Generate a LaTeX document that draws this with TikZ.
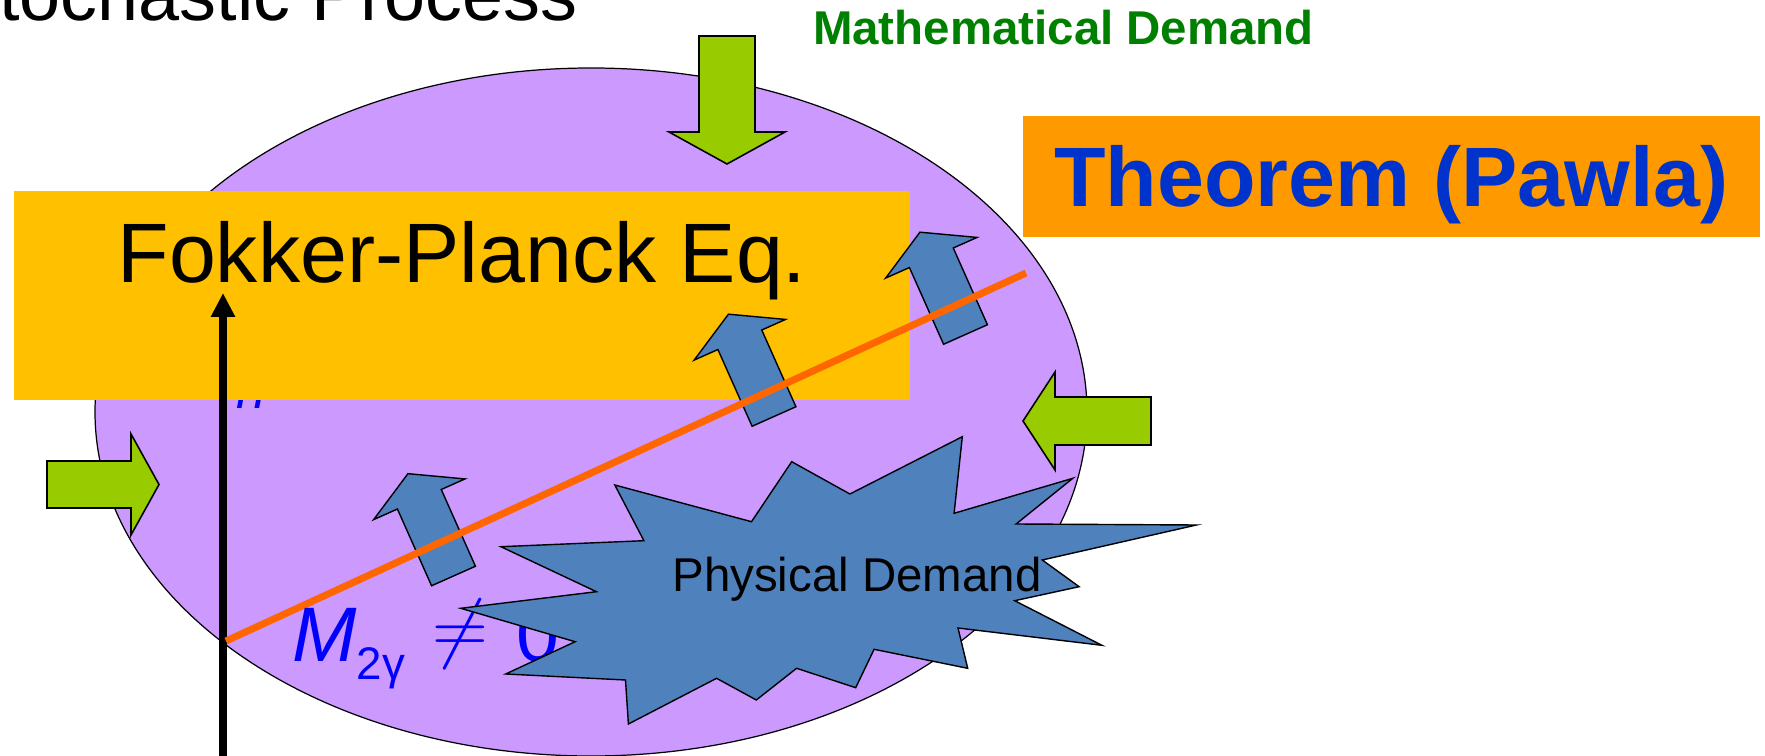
\RequirePackage{fix-cm}
\documentclass[tikz,border=0pt]{standalone}
\usepackage{fontspec}
\setmainfont{Liberation Sans}
\usepackage{xcolor}
\usepackage{tikz}
\usetikzlibrary{arrows.meta}
\definecolor{lilac}{HTML}{CC99FF}
\definecolor{gold}{HTML}{FFC000}
\definecolor{amber}{HTML}{FF9900}
\definecolor{royal}{HTML}{0033CC}
\definecolor{leaf}{HTML}{99CC00}
\definecolor{deepgreen}{HTML}{008000}
\definecolor{steel}{HTML}{4F81BD}
\definecolor{flame}{HTML}{FF6600}
\definecolor{pureblue}{HTML}{0000FF}

\tikzset{
  bubble/.style={fill=lilac, draw=black, line width=0.7pt},
  fpbox/.style={fill=gold, minimum width=17.93cm, minimum height=4.18cm, inner sep=0pt},
  fptext/.style={inner sep=0pt, font=\fontsize{48}{48}\selectfont},
  thmbox/.style={fill=amber, minimum width=14.74cm, minimum height=2.42cm, inner sep=0pt,
    text=royal, text height=34.4pt, text depth=0pt, font=\bfseries\fontsize{48}{48}\selectfont},
  mathlbl/.style={anchor=base, inner sep=0pt, text=deepgreen, font=\bfseries\fontsize{27}{27}\selectfont},
  greenarrow/.style={fill=leaf, draw=black, line width=0.9pt},
  bluearrow/.style={fill=steel, draw=black, line width=0.8pt},
  burst/.style={fill=steel, draw=black, line width=0.8pt, line join=miter},
  physlbl/.style={anchor=base, inner sep=0pt, font=\fontsize{27}{27}\selectfont},
  axisarrow/.style={line width=4.5pt, -{Triangle[width=13pt, length=13.6pt]}},
  flameline/.style={draw=flame, line width=4pt},
  mlbl/.style={anchor=base west, inner sep=0pt, text=pureblue, font=\fontsize{44}{44}\selectfont},
  hiddenlbl/.style={anchor=base west, inner sep=0pt, text=pureblue, font=\fontsize{30}{30}\selectfont},
  pics/blockarrow/.style args={#1/#2/#3/#4}{code={
    \path[pic actions] (0,-#1) -- (#2,-#1) -- (#2,-#3) -- ({#2+#4},0) -- (#2,#3) -- (#2,#1) -- (0,#1) -- cycle;}},
}

\begin{document}
\begin{tikzpicture}[x=0.02cm, y=-0.02cm]
\useasboundingbox (0,0) rectangle (1765,756);

% title, cut by the top edge
\node[anchor=base east, inner sep=0pt, font=\fontsize{42}{42}\selectfont] (title) at (578,21) {Stochastic Process};

% the bubble
\draw[bubble] (591,412) ellipse [x radius=496, y radius=344];

% label hidden under the box
\node[hiddenlbl] (moment) at (236,409) {\itshape n};

% Fokker-Planck box
\node[fpbox, anchor=north west] (fp) at (13.5,191) {};
\node[fptext, anchor=base] (fplabel) at ([yshift=-1.84cm]fp.north) {Fokker-Planck Eq.};

% green block arrows
\pic[greenarrow] at (47,484.5) {blockarrow=23.5/84/50.5/28};
\pic[greenarrow, rotate=-90] at (727,36) {blockarrow=28/96/58/32};
\pic[greenarrow, rotate=180] at (1151,421) {blockarrow=24/96/49/32};

\node[mathlbl] (mathdemand) at (1063.5,45) {Mathematical Demand};
\node[thmbox] (thm) at (1391.5,176.5) {Theorem (Pawla)};

% vertical axis
\coordinate (vbase) at (223,756);
\coordinate (vtip) at (223,293);
\draw[axisarrow] (vbase) -- (vtip);

% tilted blue arrows
\foreach \bx/\by in {453.5/576, 774/416.5, 965.5/334.5}
  \pic[bluearrow, rotate=114] at (\bx,\by) {blockarrow=24/84/50/28};

% orange line
\coordinate (lstart) at (226,641);
\coordinate (lend) at (1026,273);
\draw[flameline] (lstart) -- (lend);

\node[mlbl] (mneq) at (292,662) {\itshape M\raisebox{-10pt}{\fontsize{26}{26}\selectfont\upshape 2γ}\hspace{15.9pt}\raisebox{5pt}{\upshape$\neq$}\hspace{15.9pt}{\upshape 0}};

% starburst
\draw[burst] (614.8,485) -- (751.5,521.7) -- (791.7,461.7) -- (849.9,494) -- (962.3,436.7)
  -- (954.1,513.3) -- (1072.8,478.3) -- (1016.1,524) -- (1196.4,525) -- (1042.3,560)
  -- (1079.1,586.7) -- (1014.7,600.7) -- (1101.9,645.3) -- (958,628) -- (967.7,668.3)
  -- (874.1,649.3) -- (855.7,687.7) -- (796.6,668.3) -- (756.3,700) -- (716.6,678.3)
  -- (628.4,724) -- (625.5,680) -- (505.7,674) -- (575.1,641.7) -- (460.7,608.3)
  -- (596.4,591.7) -- (500.9,546.7) -- (643.9,540.7) -- cycle;
\node[physlbl] (phys) at (857,592) {Physical Demand};
\end{tikzpicture}
\end{document}
